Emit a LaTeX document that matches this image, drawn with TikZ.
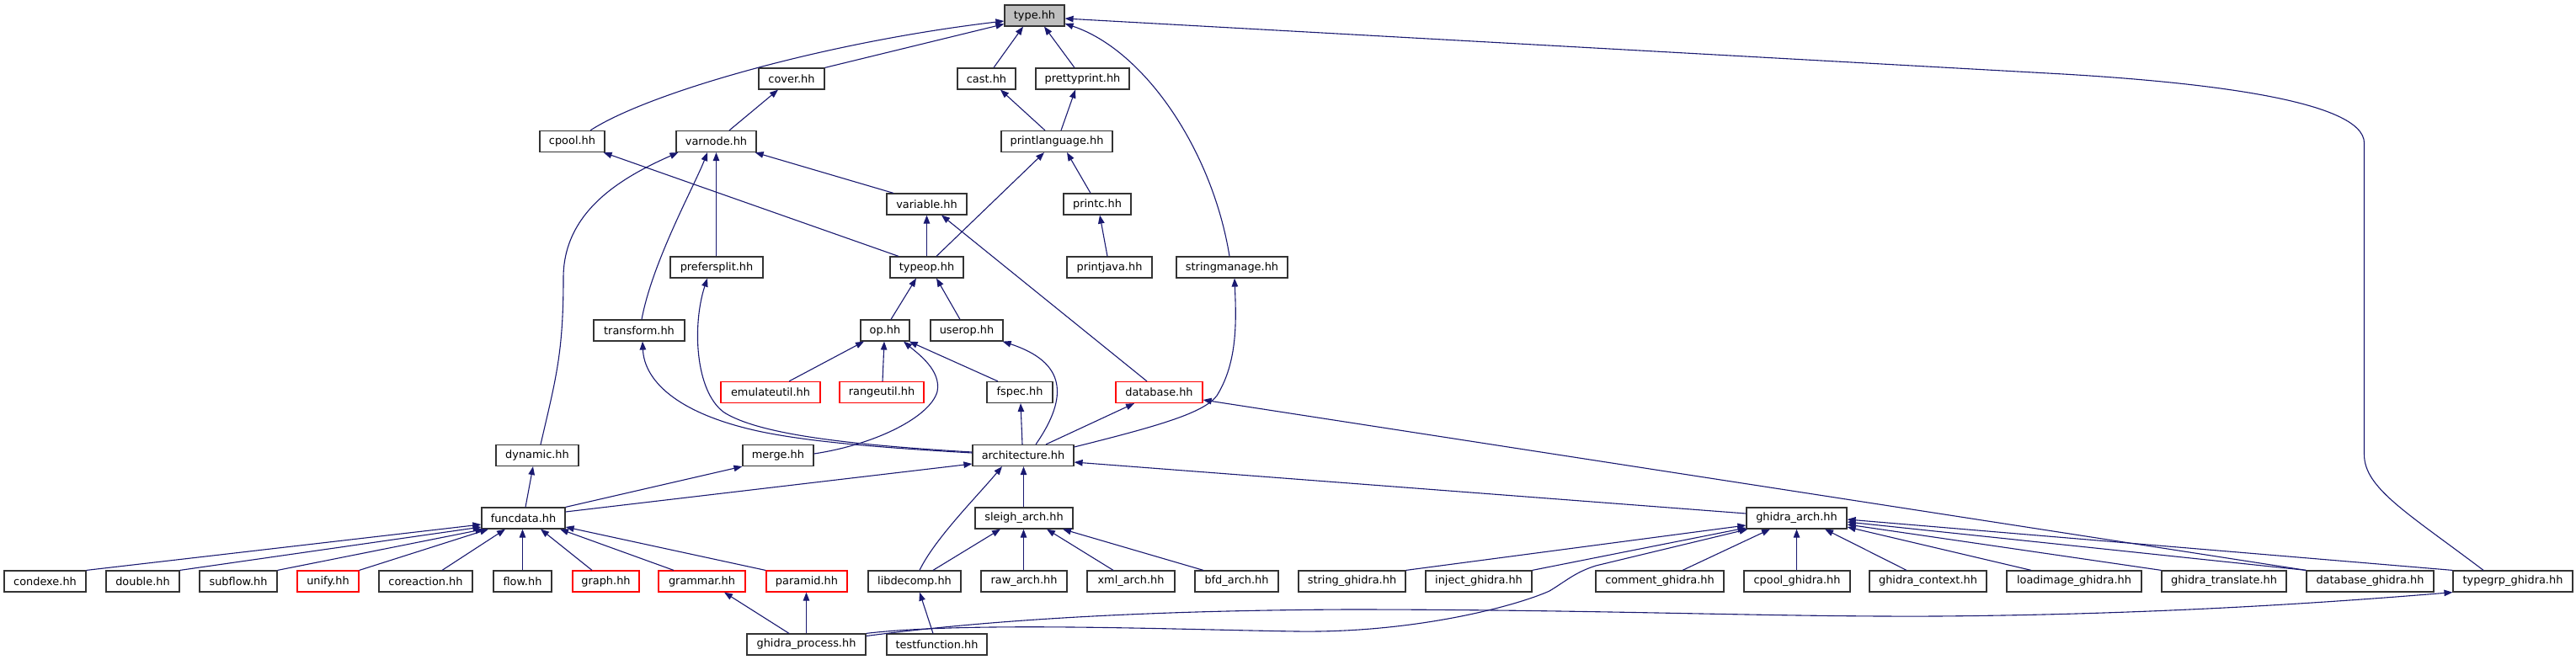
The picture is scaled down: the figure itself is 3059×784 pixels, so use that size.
\documentclass[tikz,border=0pt]{standalone}
\usepackage{fontspec}
\setmainfont{DejaVu Sans}
\usetikzlibrary{arrows.meta}
\definecolor{edgeblue}{HTML}{191970}
\definecolor{rootgray}{HTML}{BFBFBF}
\definecolor{bord}{HTML}{333333}
\definecolor{redb}{HTML}{FF0000}
\begin{document}
\begin{tikzpicture}[x=1pt,y=1pt,
  box/.style={draw=bord, line width=1.2pt, fill=white, inner sep=0pt, minimum height=25pt,
    font=\fontsize{12.9}{15}\selectfont, text=black},
  redbox/.style={box, draw=redb},
  rootbox/.style={box, fill=rootgray},
  edge/.style={draw=edgeblue, line width=1.1pt, -{Triangle[length=10pt,width=7.5pt]}}]
\useasboundingbox (0,0) rectangle (3059,-784);
% row 1
\node[rootbox, minimum width=71pt] (type) at (1228.5,-18.5) {type.hh};
% row 2
\node[box, minimum width=78pt] (cover) at (940,-93.5) {cover.hh};
\node[box, minimum width=69pt] (cast) at (1171.5,-93.5) {cast.hh};
\node[box, minimum width=111pt] (prettyprint) at (1285.5,-93.5) {prettyprint.hh};
% row 3
\node[box, minimum width=77pt] (cpool) at (679.5,-168) {cpool.hh};
\node[box, minimum width=95pt] (varnode) at (850.5,-168) {varnode.hh};
\node[box, minimum width=132pt] (printlanguage) at (1255,-168) {printlanguage.hh};
% row 4
\node[box, minimum width=95pt] (variable) at (1100.5,-242.5) {variable.hh};
\node[box, minimum width=80pt] (printc) at (1303,-242.5) {printc.hh};
% row 5
\node[box, minimum width=110pt] (prefersplit) at (851,-317.5) {prefersplit.hh};
\node[box, minimum width=87pt] (typeop) at (1100.5,-317.5) {typeop.hh};
\node[box, minimum width=101pt] (printjava) at (1317.5,-317.5) {printjava.hh};
\node[box, minimum width=132pt] (stringmanage) at (1463,-317.5) {stringmanage.hh};
% row 6
\node[box, minimum width=108pt] (transform) at (759,-392.5) {transform.hh};
\node[box, minimum width=58pt] (op) at (1051,-392.5) {op.hh};
\node[box, minimum width=86pt] (userop) at (1148,-392.5) {userop.hh};
% row 7
\node[redbox, minimum width=118pt] (emulateutil) at (915,-466) {emulateutil.hh};
\node[redbox, minimum width=100pt] (rangeutil) at (1047,-466) {rangeutil.hh};
\node[box, minimum width=78pt] (fspec) at (1211,-466) {fspec.hh};
\node[redbox, minimum width=103pt] (database) at (1376.5,-466) {database.hh};
% row 8
\node[box, minimum width=98pt] (dynamic) at (638,-541) {dynamic.hh};
\node[box, minimum width=84pt] (merge) at (924,-541) {merge.hh};
\node[box, minimum width=120pt] (architecture) at (1215,-541) {architecture.hh};
% row 9
\node[box, minimum width=99pt] (funcdata) at (621.5,-615.5) {funcdata.hh};
\node[box, minimum width=116pt] (sleigh) at (1216,-615.5) {sleigh\_arch.hh};
\node[box, minimum width=119pt] (ghidraarch) at (2133.5,-615.5) {ghidra\_arch.hh};
% row 10
\node[box, minimum width=97pt] (condexe) at (53.5,-690.5) {condexe.hh};
\node[box, minimum width=87pt] (double) at (169.5,-690.5) {double.hh};
\node[box, minimum width=92pt] (subflow) at (283,-690.5) {subflow.hh};
\node[redbox, minimum width=73pt] (unify) at (389.5,-690.5) {unify.hh};
\node[box, minimum width=111pt] (coreaction) at (505.5,-690.5) {coreaction.hh};
\node[box, minimum width=69pt] (flow) at (620.5,-690.5) {flow.hh};
\node[redbox, minimum width=79pt] (graph) at (719.5,-690.5) {graph.hh};
\node[redbox, minimum width=103pt] (grammar) at (833.5,-690.5) {grammar.hh};
\node[redbox, minimum width=96pt] (paramid) at (958,-690.5) {paramid.hh};
\node[box, minimum width=110pt] (libdecomp) at (1086,-690.5) {libdecomp.hh};
\node[box, minimum width=102pt] (rawarch) at (1216,-690.5) {raw\_arch.hh};
\node[box, minimum width=104pt] (xmlarch) at (1343,-690.5) {xml\_arch.hh};
\node[box, minimum width=99pt] (bfdarch) at (1468.5,-690.5) {bfd\_arch.hh};
\node[box, minimum width=127pt] (stringghidra) at (1605.5,-690.5) {string\_ghidra.hh};
\node[box, minimum width=126pt] (injectghidra) at (1756,-690.5) {inject\_ghidra.hh};
\node[box, minimum width=152pt] (commentghidra) at (1971,-690.5) {comment\_ghidra.hh};
\node[box, minimum width=126pt] (cpoolghidra) at (2134,-690.5) {cpool\_ghidra.hh};
\node[box, minimum width=139pt] (ghidracontext) at (2289.5,-690.5) {ghidra\_context.hh};
\node[box, minimum width=160pt] (loadimage) at (2463,-690.5) {loadimage\_ghidra.hh};
\node[box, minimum width=148pt] (translate) at (2641,-690.5) {ghidra\_translate.hh};
\node[box, minimum width=151pt] (databaseghidra) at (2814.5,-690.5) {database\_ghidra.hh};
\node[box, minimum width=142pt] (typegrp) at (2984,-690.5) {typegrp\_ghidra.hh};
% row 11
\node[box, minimum width=141pt] (ghidraprocess) at (957.5,-765.5) {ghidra\_process.hh};
\node[box, minimum width=119pt] (testfunction) at (1112.5,-765.5) {testfunction.hh};

% edges into type.hh
\draw[edge] ([xshift=21.5]cpool.north) .. controls (770,-110) and (980,-50) .. ([yshift=-6.5]type.west);
\draw[edge] (cover.north east) -- ([yshift=-10]type.west);
\draw[edge] ([xshift=8.5]cast.north) -- ([xshift=-13.5]type.south);
\draw[edge] ([xshift=-9.5]prettyprint.north) -- ([xshift=11.5]type.south);
\draw[edge] ([xshift=-3]stringmanage.north) .. controls (1440,-180) and (1360,-60) .. ([yshift=-9.5]type.east);
\draw[edge] ([xshift=-35]typegrp.north) .. controls (2860,-610) and (2807.5,-580) .. (2807.5,-540) -- (2807.5,-170) .. controls (2807.5,-120) and (2620,-98) .. (2450,-88) -- ([yshift=-3.5]type.east);
% upper part
\draw[edge] ([xshift=15.5]varnode.north) -- ([xshift=-16]cover.south);
\draw[edge] ([xshift=-14]printlanguage.north) -- ([xshift=16.5]cast.south);
\draw[edge] ([xshift=5]printlanguage.north) -- ([xshift=-8.5]prettyprint.south);
\draw[edge] ([xshift=-33.5]typeop.north) -- ([xshift=-2]cpool.south east);
\draw[edge] ([xshift=4]dynamic.north) .. controls (660,-450) and (669,-420) .. (669,-330) .. controls (669,-250) and (740,-210) .. ([xshift=3]varnode.south west);
\draw[edge] ([xshift=3]transform.north) .. controls (775,-310) and (825,-220) .. ([xshift=-10.5]varnode.south);
\draw[edge] ([xshift=-0.5]prefersplit.north) -- ([xshift=-0.5]prefersplit.north |- varnode.south);
\draw[edge] ([xshift=-39.5]variable.north) -- ([xshift=-2]varnode.south east);
\draw[edge] ([xshift=11.5]typeop.north) -- ([xshift=-15]printlanguage.south);
\draw[edge] ([xshift=-8]printc.north) -- ([xshift=12]printlanguage.south);
\draw[edge] ([xshift=-2.5]printjava.north) -- ([xshift=3]printc.south);
\draw[edge] (typeop.north) -- (variable.south);
\draw[edge] ([xshift=-14.5]database.north) -- ([xshift=17.5]variable.south);
\draw[edge] ([xshift=7]op.north) -- ([xshift=-12.5]typeop.south);
\draw[edge] ([xshift=-8]userop.north) -- ([xshift=11.5]typeop.south);
% op level
\draw[edge] ([xshift=22]emulateutil.north) -- ([xshift=-25]op.south);
\draw[edge] ([xshift=1]rangeutil.north) -- ([xshift=-1]op.south);
\draw[edge] ([xshift=-26]fspec.north) -- ([xshift=-1]op.south east);
\draw[edge] ([yshift=2]merge.east) .. controls (1040,-528) and (1105,-495) .. (1113,-465) .. controls (1118,-440) and (1090,-420) .. ([xshift=22]op.south);
% architecture
\draw[edge] ([xshift=15]architecture.north) .. controls (1270,-470) and (1265,-430) .. ([xshift=-1]userop.south east);
\draw[edge] ([xshift=-1]architecture.north) -- ([xshift=1]fspec.south);
\draw[edge] ([xshift=27]architecture.north) -- ([xshift=-29.5]database.south);
\draw[edge] ([yshift=10]architecture.east) .. controls (1380,-505) and (1430,-490) .. (1445,-470) .. controls (1470,-430) and (1468,-380) .. ([xshift=3]stringmanage.south);
\draw[edge] ([yshift=3]architecture.west) .. controls (1050,-532) and (960,-525) .. (900,-512) .. controls (800,-490) and (765,-450) .. ([xshift=4]transform.south);
\draw[edge] ([yshift=4]architecture.west) .. controls (1000,-528) and (900,-515) .. (860,-490) .. controls (825,-465) and (822,-385) .. ([xshift=-11]prefersplit.south);
\draw[edge] (databaseghidra.north west) -- ([yshift=-9]database.east);
% funcdata level
\draw[edge] (funcdata.north east) -- (merge.south west);
\draw[edge] ([yshift=7.5]funcdata.east) -- ([yshift=-10]architecture.west);
\draw[edge] ([xshift=2.5]funcdata.north) -- ([xshift=-5]dynamic.south);
\draw[edge] ([xshift=6]libdecomp.north) .. controls (1110,-640) and (1160,-590) .. ([xshift=-25]architecture.south);
\draw[edge] ([xshift=-0.5]sleigh.north) -- ([xshift=-0.5]sleigh.north |- architecture.south);
\draw[edge] ([yshift=5.5]ghidraarch.west) -- ([yshift=-8]architecture.east);
% sleigh children
\draw[edge] ([xshift=22]libdecomp.north) -- ([xshift=-28]sleigh.south);
\draw[edge] ([xshift=-0.5]rawarch.north) -- ([xshift=-0.5]sleigh.south);
\draw[edge] ([xshift=-21]xmlarch.north) -- ([xshift=27]sleigh.south);
\draw[edge] ([xshift=-39.5]bfdarch.north) -- ([xshift=46]sleigh.south);
% bottom row
\draw[edge] ([xshift=-20.5]ghidraprocess.north) -- ([xshift=26.5]grammar.south);
\draw[edge] (ghidraprocess.north) -- (ghidraprocess.north |- paramid.south);
\draw[edge] ([xshift=-4.5]testfunction.north) -- ([xshift=6]libdecomp.south);
% funcdata children
\draw[edge] (condexe.north east) -- ([yshift=-7.5]funcdata.west);
\draw[edge] (double.north east) -- ([yshift=-10.5]funcdata.west);
\draw[edge] (subflow.north east) -- ([xshift=3]funcdata.south west);
\draw[edge] (unify.north east) -- ([xshift=-41.5]funcdata.south);
\draw[edge] ([xshift=19.5]coreaction.north) -- ([xshift=-21.5]funcdata.south);
\draw[edge] (flow.north) -- (flow.north |- funcdata.south);
\draw[edge] ([xshift=-16.5]graph.north) -- ([xshift=20.5]funcdata.south);
\draw[edge] ([xshift=-33.5]grammar.north) -- ([xshift=43.5]funcdata.south);
\draw[edge] ([xshift=-49]paramid.north) -- ([yshift=-10.5]funcdata.east);
% ghidra_arch children
\draw[edge] (stringghidra.north east) -- ([yshift=-8.5]ghidraarch.west);
\draw[edge] (injectghidra.north east) -- ([yshift=-11.5]ghidraarch.west);
\draw[edge] ([xshift=27]commentghidra.north) -- ([xshift=-31.5]ghidraarch.south);
\draw[edge] ([xshift=-0.5]cpoolghidra.north) -- ([xshift=-0.5]cpoolghidra.north |- ghidraarch.south);
\draw[edge] ([xshift=-25.5]ghidracontext.north) -- ([xshift=33.5]ghidraarch.south);
\draw[edge] ([xshift=-51]loadimage.north) -- ([yshift=-10.5]ghidraarch.east);
\draw[edge] (translate.north west) -- ([yshift=-7.5]ghidraarch.east);
\draw[edge] (databaseghidra.north west) -- ([yshift=-4.5]ghidraarch.east);
\draw[edge] (typegrp.north west) -- ([yshift=-1.5]ghidraarch.east);
% ghidra_process long curves
\draw[edge] (ghidraprocess.north east) .. controls (1150,-738) and (1400,-748) .. (1540,-750) .. controls (1680,-752) and (1800,-720) .. (1840,-702) .. controls (1860,-690) and (1870,-680) .. (1895,-672) -- ([xshift=2]ghidraarch.south west);
\draw[edge] ([yshift=10]ghidraprocess.east) .. controls (1200,-733) and (1400,-725) .. (1600,-724) .. controls (1900,-724) and (2100,-733) .. (2300,-732) .. controls (2550,-730) and (2750,-717) .. (typegrp.south west);
\end{tikzpicture}
\end{document}
